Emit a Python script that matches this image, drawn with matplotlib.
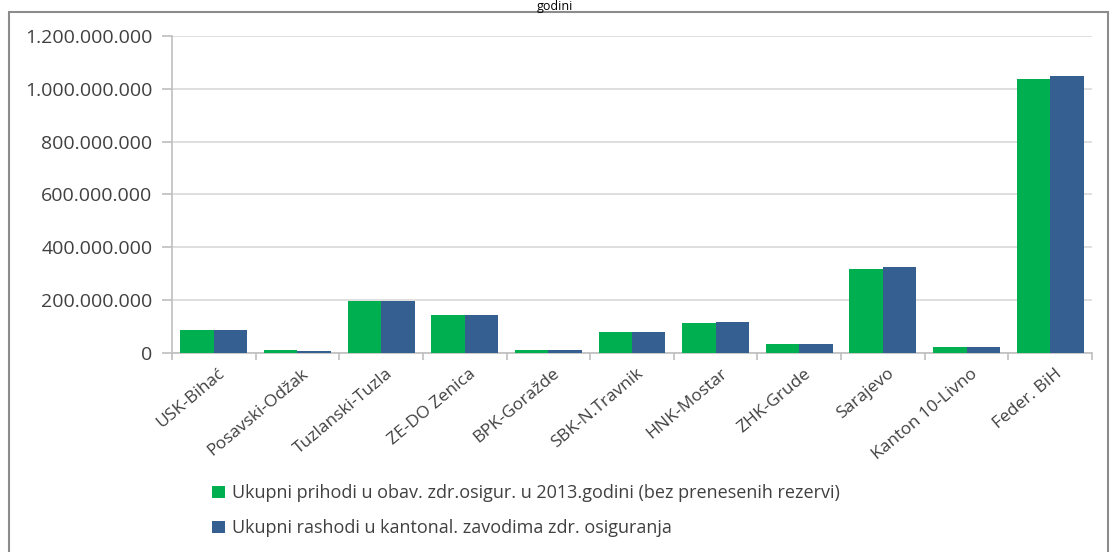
import matplotlib
matplotlib.use("Agg")
import matplotlib.pyplot as plt
from matplotlib.patches import Rectangle
import numpy as np

categories = ["USK-Bihać", "Posavski-Odžak", "Tuzlanski-Tuzla", "ZE-DO Zenica", "BPK-Goražde",
              "SBK-N.Travnik", "HNK-Mostar", "ZHK-Grude", "Sarajevo", "Kanton 10-Livno", "Feder. BiH"]
prihodi = [87e6, 11e6, 197e6, 144e6, 11e6, 78e6, 113e6, 34e6, 318e6, 24e6, 1037e6]
rashodi = [87e6, 9e6, 197e6, 144e6, 11e6, 78e6, 117e6, 34e6, 327e6, 24e6, 1050e6]
series_names = ["Ukupni prihodi u obav. zdr.osigur. u 2013.godini (bez prenesenih rezervi)",
                "Ukupni rashodi u kantonal. zavodima zdr. osiguranja"]
yticks = [0, 200e6, 400e6, 600e6, 800e6, 1000e6, 1200e6]
ytick_labels = ["0", "200.000.000", "400.000.000", "600.000.000", "800.000.000",
                "1.000.000.000", "1.200.000.000"]

plt.rcParams['font.family'] = ['Open Sans', 'DejaVu Sans']
W, H = 1110, 552
fig = plt.figure(figsize=(W/100, H/100), dpi=100)

green = '#00b050'
blue = '#355f91'
grid_c = '#d9d9d9'
axis_c = '#bfbfbf'
text_c = '#404040'

ax = fig.add_axes([172/W, 1-353/H, (1092-172)/W, (353-36)/H])
x = np.arange(len(categories))
bw = 0.4
ax.bar(x - bw/2, prihodi, width=bw, color=green, zorder=3, label=series_names[0])
ax.bar(x + bw/2, rashodi, width=bw, color=blue, zorder=3, label=series_names[1])

ax.set_xlim(-0.5, len(categories) - 0.5)
ax.set_ylim(0, 1.2e9)
ax.set_yticks(yticks)
ax.set_yticklabels(ytick_labels, fontsize=14, color=text_c)
ax.yaxis.grid(True, color=grid_c, linewidth=1.2, zorder=0)
ax.tick_params(axis='y', length=7, color=axis_c, width=1.2, pad=7)

ax.set_xticks(np.arange(-0.5, len(categories), 1.0))
ax.set_xticklabels([])
ax.tick_params(axis='x', which='major', length=5, color=axis_c, width=1.2)
ax.set_xticks(x + 0.05, minor=True)
ax.set_xticklabels(categories, minor=True, rotation=40, ha='right', va='top',
                   rotation_mode='anchor', fontsize=12.5, color=text_c)
ax.tick_params(axis='x', which='minor', length=0, pad=9)

for s in ['top', 'right']:
    ax.spines[s].set_visible(False)
for s in ['left', 'bottom']:
    ax.spines[s].set_color(axis_c)
    ax.spines[s].set_linewidth(1.2)

# chart border
fig.patches.append(Rectangle((9/W, -0.1), (1108-9)/W, 1.1 - 12/H, transform=fig.transFigure,
                             fill=False, edgecolor='#8c8c8c', linewidth=1.5))

fig.text(0.5, 1.0, "godini", ha='center', va='top', fontsize=9, color='black')

handles, labels = ax.get_legend_handles_labels()
fig.legend(handles, labels, loc='upper left', bbox_to_anchor=(196/W, 1-468/H), frameon=False,
           fontsize=13, labelcolor=text_c, handlelength=0.7, handleheight=0.7,
           handletextpad=0.4, labelspacing=0.95)

fig.savefig("out.png", dpi=100)
